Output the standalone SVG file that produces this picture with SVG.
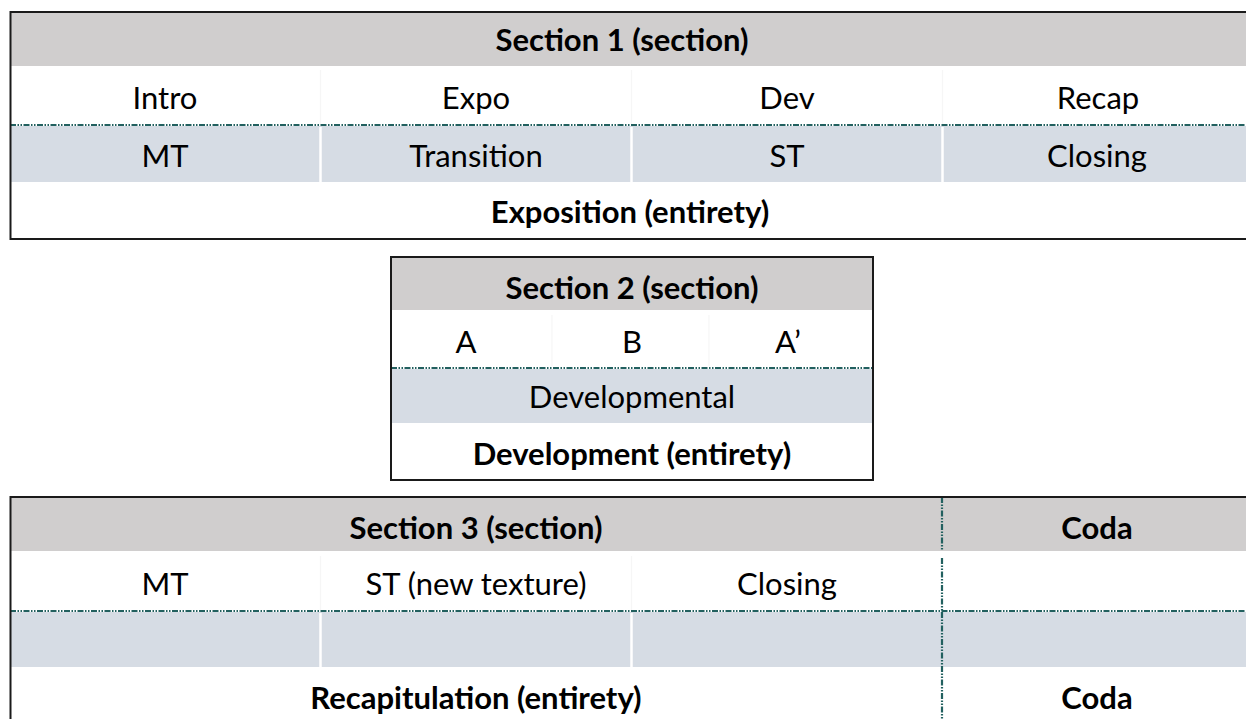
<svg xmlns="http://www.w3.org/2000/svg" width="1246" height="719" viewBox="0 0 1246 719">
<style>
.hdr{fill:#d0cece}
.blu{fill:#d6dce4}
.wht{fill:#ffffff}
.brd{fill:none;stroke:#1a1a1a;stroke-width:2}
.dd{stroke:#22605f;stroke-width:2.2;fill:none;stroke-dasharray:6 1.5 1.5 1.5 1.5 1.5}
.sep{stroke:#ffffff;stroke-width:2.5}
.faint{stroke:#f6f6f6;stroke-width:1.2}
text{font-family:Lato,"Liberation Sans",sans-serif;font-size:31px;fill:#000;text-anchor:middle;dominant-baseline:central}
.b{font-weight:bold}
</style>
<rect width="1246" height="719" fill="#ffffff"/>

<g id="section1">
  <rect class="hdr" x="10" y="12" width="1236" height="54"/>
  <rect class="wht" x="10" y="67" width="1236" height="58"/>
  <rect class="blu" x="10" y="126" width="1236" height="56"/>
  <rect class="wht" x="10" y="182" width="1236" height="57"/>
  <line class="faint" x1="320.5" y1="70" x2="320.5" y2="124"/>
  <line class="faint" x1="631.5" y1="70" x2="631.5" y2="124"/>
  <line class="faint" x1="942.5" y1="70" x2="942.5" y2="124"/>
  <line class="sep" x1="320.5" y1="127" x2="320.5" y2="182"/>
  <line class="sep" x1="631.5" y1="127" x2="631.5" y2="182"/>
  <line class="sep" x1="942.5" y1="127" x2="942.5" y2="182"/>
  <line class="dd" x1="10" y1="125" x2="1246" y2="125"/>
  <path class="brd" d="M1246 12 H10.5 V239 H1246"/>
  <text class="b" x="622" y="39">Section 1 (section)</text>
  <text x="165" y="97">Intro</text>
  <text x="476" y="97">Expo</text>
  <text x="787" y="97">Dev</text>
  <text x="1098" y="97">Recap</text>
  <text x="165" y="155">MT</text>
  <text x="476" y="155">Transition</text>
  <text x="787" y="155">ST</text>
  <text x="1097" y="155">Closing</text>
  <text class="b" x="630" y="211">Exposition (entirety)</text>
</g>

<g id="section2">
  <rect class="hdr" x="391" y="257" width="482" height="53"/>
  <rect class="wht" x="391" y="311" width="482" height="57"/>
  <rect class="blu" x="391" y="369" width="482" height="54"/>
  <rect class="wht" x="391" y="423" width="482" height="57"/>
  <line class="faint" x1="552" y1="315" x2="552" y2="366"/>
  <line class="faint" x1="709" y1="315" x2="709" y2="366"/>
  <line class="dd" x1="391" y1="368" x2="873" y2="368"/>
  <rect class="brd" x="391" y="257" width="482" height="223"/>
  <text class="b" x="632" y="287">Section 2 (section)</text>
  <text x="466" y="341">A</text>
  <text x="632" y="341">B</text>
  <text x="788" y="341">A’</text>
  <text x="632" y="396">Developmental</text>
  <text class="b" x="632" y="453">Development (entirety)</text>
</g>

<g id="section3">
  <rect class="hdr" x="10" y="497" width="1236" height="54"/>
  <rect class="wht" x="10" y="552" width="1236" height="59"/>
  <rect class="blu" x="10" y="612" width="1236" height="55"/>
  <rect class="wht" x="10" y="667" width="1236" height="52"/>
  <line class="faint" x1="320.5" y1="556" x2="320.5" y2="610"/>
  <line class="faint" x1="631.5" y1="556" x2="631.5" y2="610"/>
  <line class="sep" x1="320.5" y1="613" x2="320.5" y2="667"/>
  <line class="sep" x1="631.5" y1="613" x2="631.5" y2="667"/>
  <line class="dd" x1="10" y1="611" x2="1246" y2="611"/>
  <line class="dd" x1="942" y1="497" x2="942" y2="551"/>
  <line class="dd" x1="942" y1="558" x2="942" y2="719"/>
  <path class="brd" d="M1246 497 H10.5 V719"/>
  <text class="b" x="476" y="527">Section 3 (section)</text>
  <text class="b" x="1097" y="527">Coda</text>
  <text x="165" y="583">MT</text>
  <text x="476" y="583">ST (new texture)</text>
  <text x="787" y="583">Closing</text>
  <text class="b" x="476" y="697">Recapitulation (entirety)</text>
  <text class="b" x="1097" y="697">Coda</text>
</g>
</svg>
